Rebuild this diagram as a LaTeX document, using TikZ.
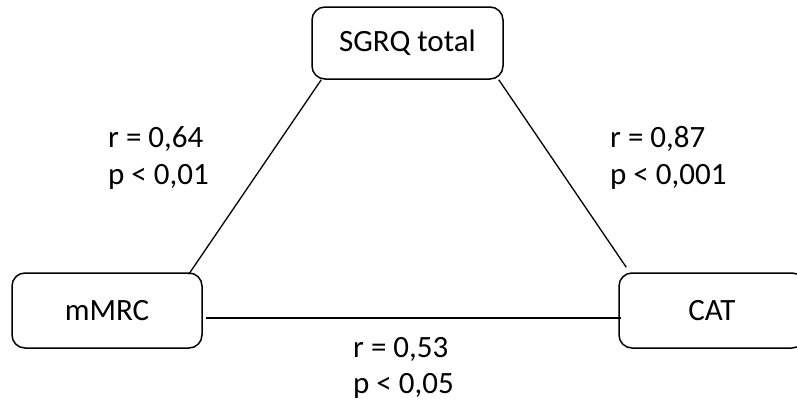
\documentclass[tikz,border=0pt]{standalone}
\usepackage{fontspec}
\setmainfont{Carlito}
\begin{document}
\begin{tikzpicture}[x=1pt,y=-1pt,
  box/.style={draw, line width=1.5pt, rounded corners=13pt, inner sep=0pt, font=\fontsize{31}{37}\selectfont},
  lbl/.style={anchor=base west, inner sep=0pt, font=\fontsize{31}{37}\selectfont},
  link/.style={line width=1.3pt}]
\useasboundingbox (0,0) rectangle (797,405);
\node[box, minimum width=191pt, minimum height=72pt] (sgrq) at (407.5,43) {SGRQ total};
\node[box, minimum width=190pt, minimum height=75pt] (mmrc) at (107,310.5) {mMRC};
\node[box, minimum width=186pt, minimum height=75pt] (cat) at (712,310.5) {CAT};
\draw[link] ([xshift=10pt]sgrq.south west) -- ([xshift=-14pt,yshift=-2pt]mmrc.north east);
\draw[link] ([xshift=-5pt]sgrq.south east) -- ([xshift=8pt,yshift=5pt]cat.north west);
\draw[link] ([xshift=3pt,yshift=-7.5pt]mmrc.east) -- ([xshift=3pt,yshift=-7.5pt]cat.west);
\node[lbl] (l1) at (108,147) {r = 0,64};
\node[lbl] (l2) at (108,184) {p < 0,01};
\node[lbl] (r1) at (610,147) {r = 0,87};
\node[lbl] (r2) at (610,184) {p < 0,001};
\node[lbl] (b1) at (353,357) {r = 0,53};
\node[lbl] (b2) at (353,393) {p < 0,05};
\end{tikzpicture}
\end{document}
